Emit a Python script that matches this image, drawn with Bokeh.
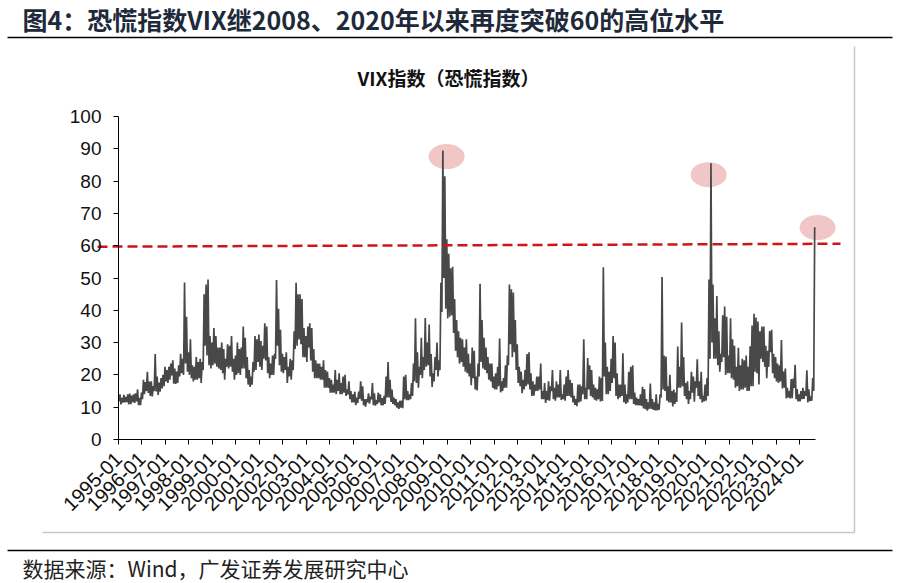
import math
from bokeh.plotting import figure
from bokeh.models import Range1d, LinearAxis, FixedTicker
from bokeh.core.properties import value
from bokeh.embed import file_html
from bokeh.resources import INLINE

# ---------------- data ----------------
title_text = "图4：恐慌指数VIX继2008、2020年以来再度突破60的高位水平"
chart_title = "VIX指数（恐慌指数）"
source_text = "数据来源：Wind，广发证券发展研究中心"

start_year = 1995
tick_years = [1995, 1996, 1997, 1998, 1999, 2000, 2001, 2002, 2003, 2004,
              2005, 2006, 2007, 2008, 2009, 2010, 2011, 2012, 2013, 2014,
              2015, 2016, 2017, 2018, 2019, 2020, 2021, 2022, 2023, 2024]
tick_labels = ["1995-01", "1996-01", "1997-01", "1998-01", "1999-01", "2000-01",
               "2001-01", "2002-01", "2003-01", "2004-01", "2005-01", "2006-01",
               "2007-01", "2008-01", "2009-01", "2010-01", "2011-01", "2012-01",
               "2013-01", "2014-01", "2015-01", "2016-01", "2017-01", "2018-01",
               "2019-01", "2020-01", "2021-01", "2022-01", "2023-01", "2024-01"]
y_ticks = [0, 10, 20, 30, 40, 50, 60, 70, 80, 90, 100]

# monthly low / high of the VIX, 1995-01 .. 2024-08
vix_low = [
    11.9, 10.9, 11.4, 11.5, 11.6, 10.9, 10.9, 11.6, 11.3, 11.8, 10.6, 10.6,  # 1995
    12.5, 14.0, 15.0, 14.4, 13.5, 13.3, 15.0, 14.9, 13.8, 14.8, 15.8, 16.5,  # 1996
    18.0, 17.5, 18.5, 19.8, 17.3, 17.2, 17.5, 19.5, 20.5, 20.0, 23.5, 21.0,  # 1997
    20.0, 19.0, 18.0, 18.5, 18.5, 19.0, 17.5, 21.5, 29.0, 26.0, 23.0, 22.0,  # 1998
    23.0, 23.5, 22.5, 22.0, 21.5, 20.5, 18.5, 22.5, 22.0, 22.5, 21.0, 18.5,  # 1999
    20.0, 20.5, 20.0, 22.0, 22.0, 19.0, 17.0, 16.3, 17.0, 21.0, 21.5, 24.0,  # 2000
    22.5, 21.5, 25.0, 24.5, 20.5, 19.0, 20.0, 20.0, 25.0, 29.0, 23.0, 21.0,  # 2001
    20.5, 21.5, 17.5, 19.5, 18.5, 21.5, 28.0, 29.0, 31.0, 29.5, 25.5, 25.5,  # 2002
    24.0, 28.5, 24.5, 21.0, 19.0, 19.0, 19.0, 18.5, 18.5, 16.0, 16.0, 16.0,  # 2003
    14.5, 14.5, 14.5, 14.0, 15.0, 14.0, 14.0, 14.5, 13.5, 14.0, 12.5, 11.5,  # 2004
    11.5, 10.6, 11.3, 12.6, 12.0, 10.6, 10.2, 11.5, 11.1, 12.5, 10.6, 10.5,  # 2005
    11.0, 11.5, 10.6, 10.6, 11.0, 13.0, 13.0, 11.6, 11.0, 10.6, 9.9, 9.5,    # 2006
    9.9, 9.7, 12.5, 12.2, 12.2, 12.5, 13.5, 18.0, 17.5, 16.0, 20.0, 19.0,    # 2007
    21.5, 22.5, 23.0, 19.5, 16.3, 18.0, 21.5, 19.5, 21.5, 39.5, 50.0, 40.5,  # 2008
    37.5, 38.0, 38.5, 33.0, 27.5, 25.5, 23.5, 24.0, 22.5, 21.0, 20.5, 19.5,  # 2009
    16.8, 19.0, 15.5, 15.2, 19.5, 24.0, 22.0, 21.5, 20.5, 18.5, 18.0, 16.0,  # 2010
    15.5, 15.5, 16.5, 14.6, 15.0, 16.0, 16.0, 23.0, 29.5, 25.5, 27.0, 21.5,  # 2011
    17.5, 16.5, 14.3, 15.5, 16.5, 17.0, 15.5, 13.5, 13.6, 15.0, 15.0, 15.5,  # 2012
    12.5, 12.5, 11.3, 12.2, 12.0, 15.0, 12.5, 12.0, 13.0, 13.0, 12.2, 12.5,  # 2013
    12.0, 13.5, 13.5, 13.0, 11.5, 10.7, 10.3, 11.5, 11.8, 14.0, 12.5, 12.5,  # 2014
    15.5, 13.5, 13.0, 12.3, 12.0, 12.5, 11.8, 11.9, 19.5, 14.0, 14.0, 15.0,  # 2015
    17.5, 19.0, 13.5, 12.5, 13.0, 13.5, 11.5, 11.0, 11.5, 12.5, 12.5, 11.0,  # 2016
    10.6, 10.6, 10.6, 10.4, 9.6, 9.4, 8.9, 9.5, 9.5, 9.2, 9.0, 9.0,          # 2017
    9.2, 13.0, 15.5, 15.0, 12.0, 11.5, 11.5, 10.2, 11.0, 11.6, 16.0, 16.0,   # 2018
    16.5, 13.5, 12.5, 11.0, 12.5, 14.5, 11.7, 16.0, 13.5, 12.5, 11.5, 11.8,  # 2019
    12.0, 13.5, 25.0, 30.0, 25.0, 25.0, 23.0, 21.0, 24.0, 25.5, 20.0, 20.5,  # 2020
    20.5, 19.0, 18.5, 16.0, 16.5, 15.0, 15.5, 15.5, 16.0, 15.0, 15.0, 16.5,  # 2021
    16.5, 21.0, 20.5, 17.0, 25.0, 24.0, 22.5, 19.0, 22.5, 27.0, 20.5, 19.0,  # 2022
    18.0, 17.5, 18.0, 15.8, 16.0, 12.7, 13.0, 12.7, 12.8, 16.0, 12.5, 11.8,  # 2023
    11.8, 12.5, 12.6, 13.5, 11.5, 11.9, 12.0, 15.0,                          # 2024
]
vix_high = [
    14.0, 12.9, 13.8, 13.2, 14.0, 14.2, 13.6, 14.0, 14.3, 15.5, 12.9, 14.5,  # 1995
    18.5, 17.8, 21.0, 17.9, 18.0, 16.5, 26.5, 19.5, 17.6, 19.0, 20.0, 22.5,  # 1996
    21.5, 22.5, 23.5, 24.5, 22.0, 21.0, 23.0, 26.5, 25.0, 48.6, 38.0, 27.0,  # 1997
    31.0, 23.0, 22.5, 25.5, 24.0, 25.0, 24.0, 45.0, 48.0, 49.5, 32.0, 30.0,  # 1998
    34.5, 32.0, 28.5, 28.5, 30.0, 28.0, 25.0, 29.5, 29.0, 32.0, 25.0, 26.0,  # 1999
    30.0, 28.0, 28.5, 35.0, 31.5, 25.5, 21.5, 19.5, 24.0, 32.0, 31.0, 32.5,  # 2000
    30.5, 29.0, 36.0, 35.0, 25.5, 23.5, 26.0, 26.5, 49.4, 40.5, 34.0, 26.5,  # 2001
    25.5, 27.0, 22.5, 25.0, 24.5, 33.5, 48.5, 45.0, 45.0, 43.5, 34.5, 32.0,  # 2002
    35.0, 36.0, 34.5, 28.0, 24.5, 23.5, 23.5, 22.5, 24.5, 21.5, 21.0, 19.0,  # 2003
    18.5, 17.0, 21.5, 18.5, 20.5, 17.5, 19.5, 20.0, 15.5, 18.0, 15.0, 14.0,  # 2004
    14.8, 13.0, 14.8, 18.0, 16.5, 12.5, 12.5, 14.3, 13.3, 17.5, 14.3, 12.2,  # 2005
    14.5, 14.0, 12.8, 13.5, 19.5, 24.0, 18.5, 15.5, 13.0, 12.5, 11.5, 12.0,  # 2006
    12.0, 19.5, 20.0, 15.0, 14.0, 17.5, 23.5, 37.5, 27.0, 22.5, 31.5, 25.5,  # 2007
    37.6, 30.0, 35.6, 26.5, 20.5, 25.5, 30.0, 24.5, 48.5, 89.5, 81.5, 62.0,  # 2008
    57.5, 53.0, 53.5, 43.5, 37.0, 33.5, 31.5, 31.0, 28.5, 31.0, 26.5, 23.5,  # 2009
    28.5, 27.5, 19.5, 23.5, 48.2, 37.0, 31.5, 28.5, 25.5, 23.5, 23.5, 19.5,  # 2010
    20.5, 22.5, 31.3, 18.0, 19.0, 23.0, 26.0, 48.0, 46.5, 45.5, 37.0, 29.5,  # 2011
    22.5, 21.0, 18.5, 21.5, 26.5, 27.0, 20.5, 18.0, 17.0, 19.5, 19.5, 23.5,  # 2012
    15.0, 17.5, 15.0, 18.0, 16.5, 21.5, 16.0, 18.0, 17.0, 21.5, 14.0, 17.0,  # 2013
    19.5, 21.5, 18.5, 17.5, 13.5, 12.5, 17.0, 17.0, 16.5, 31.0, 16.0, 25.2,  # 2014
    23.0, 21.5, 17.0, 16.0, 15.5, 19.5, 19.0, 53.3, 30.0, 22.5, 21.0, 25.0,  # 2015
    32.0, 30.0, 20.5, 17.0, 17.0, 26.7, 17.0, 14.0, 21.0, 22.5, 23.0, 14.5,  # 2016
    13.0, 12.5, 14.0, 16.3, 15.6, 12.5, 11.5, 17.3, 12.5, 11.5, 14.0, 11.0,  # 2017
    14.0, 50.3, 26.0, 25.7, 16.5, 20.0, 15.0, 15.5, 14.5, 28.8, 22.5, 36.2,  # 2018
    25.5, 17.5, 18.0, 15.0, 21.0, 19.5, 18.0, 24.8, 18.0, 21.0, 13.5, 17.0,  # 2019
    19.0, 49.5, 85.5, 48.0, 37.5, 44.4, 33.5, 26.5, 38.5, 41.2, 38.0, 26.0,  # 2020
    37.5, 31.0, 29.0, 22.5, 28.4, 23.0, 25.0, 24.5, 26.0, 22.5, 28.9, 35.3,  # 2021
    38.9, 37.8, 36.5, 33.5, 35.0, 35.0, 29.0, 27.5, 33.6, 34.0, 26.5, 25.5,  # 2022
    23.5, 23.0, 30.8, 21.0, 22.0, 16.0, 15.0, 18.7, 18.9, 23.1, 15.6, 14.0,  # 2023
    15.0, 16.0, 15.0, 21.4, 15.5, 13.3, 19.0, 65.7,                          # 2024
]

# highlighted peaks (pink ellipses) and the 60 threshold line
peak_x = [2008.97, 2020.13, 2024.77]
peak_y = [87.6, 82.0, 65.6]
threshold_y = [59.7, 60.6]
axis_end = 2024.68

# ---------------- layout helpers (page pixel -> data) ----------------
W, H = 898, 583
PX0, PX1 = 118, 815          # page x of 1995-01 and axis end
PY0, PY100 = 439, 116        # page y of value 0 and 100


def dx(px):
    return start_year + (px - PX0) * (axis_end - start_year) / (PX1 - PX0)


def dy(py):
    return (PY0 - py) * 100.0 / (PY0 - PY100)


p = figure(width=W, height=H, x_range=Range1d(dx(0), dx(W)), y_range=Range1d(dy(H), dy(0)),
           x_axis_type=None, y_axis_type=None, toolbar_location=None,
           output_backend="svg", title=None, min_border=0)
p.outline_line_color = None
p.background_fill_color = "white"
p.border_fill_color = "white"

# axes (fixed inside the canvas)
xaxis = LinearAxis(fixed_location=0, bounds=(start_year, axis_end),
                   ticker=FixedTicker(ticks=tick_years))
xaxis.major_label_overrides = {y: lab for y, lab in zip(tick_years, tick_labels)}
xaxis.major_label_orientation = math.pi / 4
xaxis.major_tick_out = 5
xaxis.major_tick_in = 0
xaxis.minor_tick_out = 0
xaxis.minor_tick_in = 0
xaxis.axis_line_color = "#000000"
xaxis.major_tick_line_color = "#000000"
xaxis.major_label_text_font = "Liberation Sans"
xaxis.major_label_text_font_size = "20px"
xaxis.major_label_text_color = "#111111"
xaxis.major_label_standoff = 11
p.add_layout(xaxis, "below")

yaxis = LinearAxis(fixed_location=start_year, bounds=(0, 100),
                   ticker=FixedTicker(ticks=y_ticks))
yaxis.major_tick_out = 5
yaxis.major_tick_in = 0
yaxis.minor_tick_out = 0
yaxis.minor_tick_in = 0
yaxis.axis_line_color = "#000000"
yaxis.major_tick_line_color = "#000000"
yaxis.major_label_text_font = "Liberation Sans"
yaxis.major_label_text_font_size = "19px"
yaxis.major_label_text_color = "#111111"
yaxis.major_label_standoff = 12
p.add_layout(yaxis, "left")

# pink highlight ellipses
p.ellipse(x=peak_x, y=peak_y, width=36, height=25, width_units="screen",
          height_units="screen", fill_color="#f0c6c6", line_color=None)

# VIX series: monthly low -> high zig-zag
xs, ys = [], []
for i, (lo, hi) in enumerate(zip(vix_low, vix_high)):
    xs += [start_year + (i + 0.25) / 12.0, start_year + (i + 0.75) / 12.0]
    ys += [lo, hi]
p.line(xs, ys, line_color="#484848", line_width=1.7)

# 60 threshold dashed line
p.line([dx(97), dx(840)], threshold_y, line_color="#d0141c", line_width=2.5,
       line_dash="10 5")

# decorative rules
p.segment(x0=[dx(7), dx(7)], y0=[dy(37), dy(550)], x1=[dx(892), dx(892)],
          y1=[dy(37), dy(550)], line_color="#000000", line_width=1.5)
p.segment(x0=[dx(854), dx(42)], y0=[dy(46), dy(532)], x1=[dx(854), dx(854)],
          y1=[dy(532), dy(532)], line_color="#c8c8c8", line_width=1.5)

# texts
p.text(x=[dx(22)], y=[dy(18)], text=[title_text], text_font=value("Noto Sans CJK SC"),
       text_font_style="bold", text_font_size="25px", text_color="#1e2a3a",
       text_align="left", text_baseline="middle")
p.text(x=[dx(448)], y=[dy(77)], text=[chart_title], text_font=value("Noto Sans CJK SC"),
       text_font_style="bold", text_font_size="19px", text_color="#111111",
       text_align="center", text_baseline="middle")
p.text(x=[dx(22)], y=[dy(567)], text=[source_text], text_font=value("Noto Sans CJK SC"),
       text_font_size="21px", text_color="#222222",
       text_align="left", text_baseline="middle")

open("out.html", "w").write(file_html(p, INLINE))
